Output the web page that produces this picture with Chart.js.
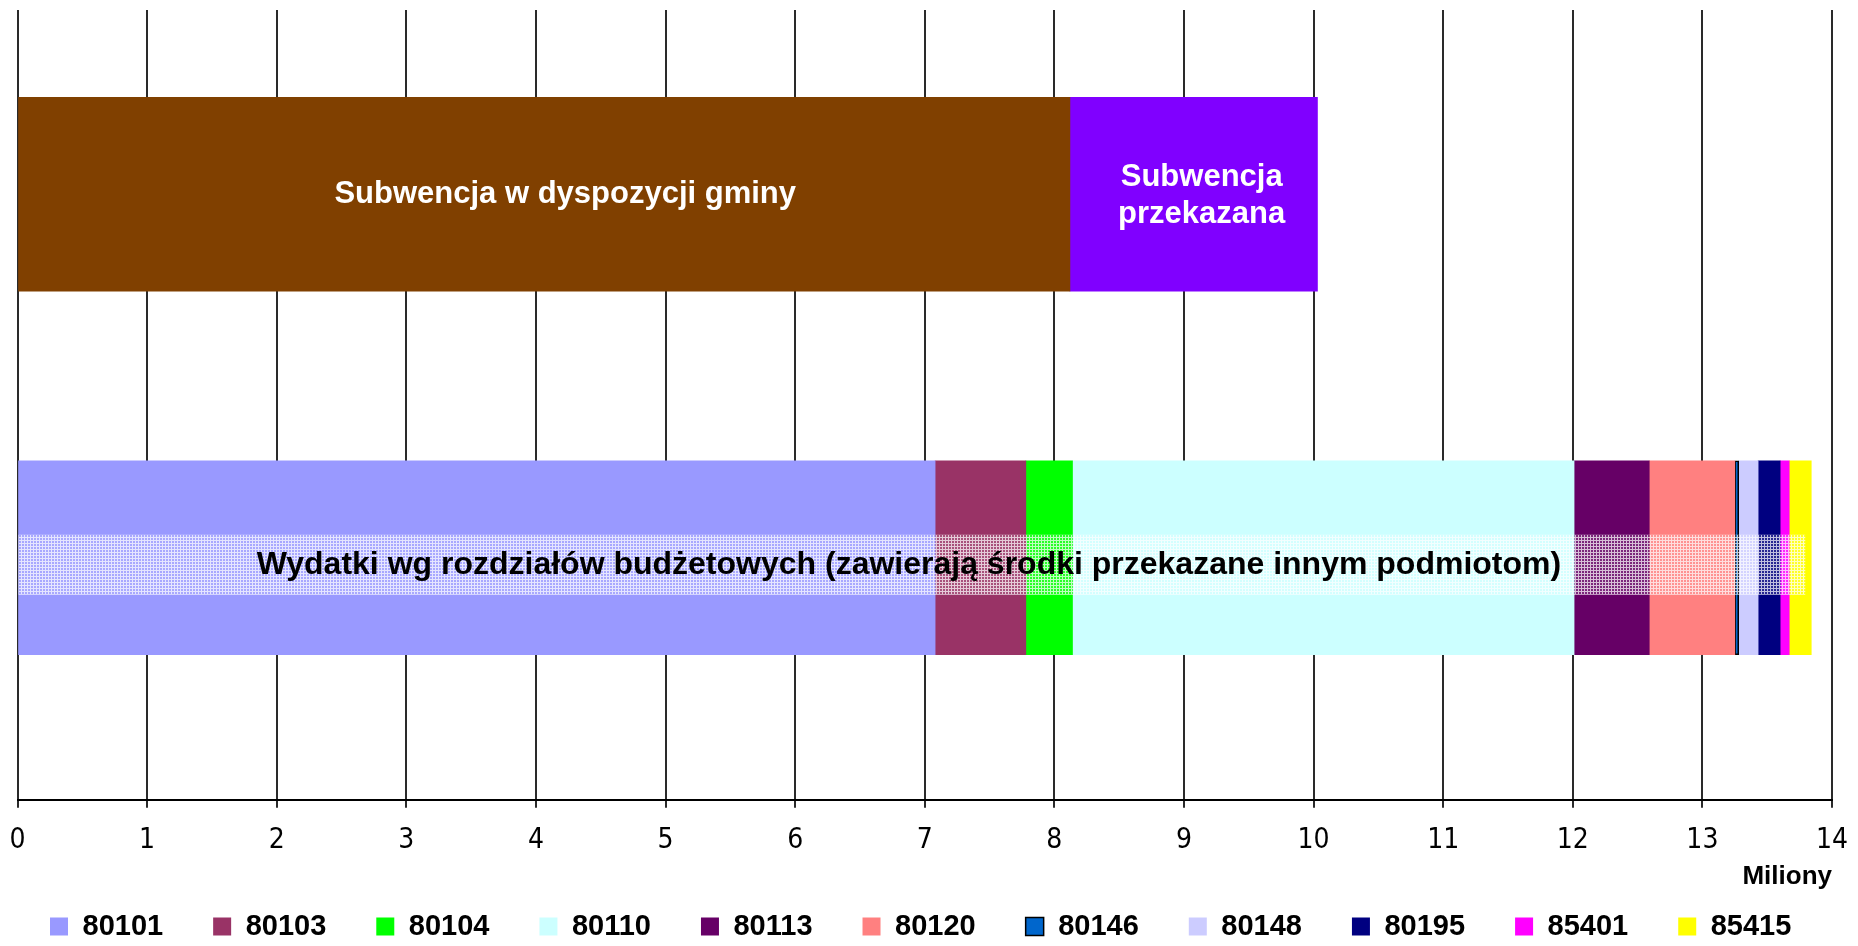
<!DOCTYPE html>
<html lang="pl">
<head>
  <meta charset="UTF-8">
  <title>Subwencja i wydatki</title>
  <script src="https://cdn.jsdelivr.net/npm/chart.js"></script>
  <style>
    html, body { margin: 0; padding: 0; background: #fff; }
    .chart-container { position: relative; width: 1858px; height: 946px; }
  </style>
</head>
<body>

  <div class="chart-container">
    <canvas id="myChart"></canvas>
  </div>

<script>
  // values in millions PLN
  const subwencjaLabels = ['Subwencja w dyspozycji gminy', 'Subwencja przekazana'];
  const subwencjaValues = [8.12, 1.91];
  const subwencjaColors = ['#804000', '#8000ff'];

  const rozdzialy = ['80101', '80103', '80104', '80110', '80113', '80120', '80146', '80148', '80195', '85401', '85415'];
  const wydatki = [7.08, 0.70, 0.36, 3.87, 0.58, 0.66, 0.03, 0.15, 0.17, 0.07, 0.17];
  const rozdzialyColors = ['#9999ff', '#993366', '#00ff00', '#ccffff', '#660066', '#ff8080', '#0066cc', '#ccccff', '#000080', '#ff00ff', '#ffff00'];

  const wydatkiLabel = 'Wydatki wg rozdziałów budżetowych (zawierają środki przekazane innym podmiotom)';
  const xMin = 0;
  const xMax = 14;
  const xTitle = 'Miliony';

  // row 0 = subwencja, row 1 = wydatki
  var datasets = [];

  subwencjaValues.forEach((v, i) => {
    datasets.push({
      label: subwencjaLabels[i],
      data: [{x: v, y: 0}],
      backgroundColor: subwencjaColors[i],
      borderWidth: 0
    });
  });

  wydatki.forEach((v, i) => {
    var outlined = rozdzialy[i] === '80146';
    datasets.push({
      label: rozdzialy[i],
      data: [{x: v, y: 1}],
      backgroundColor: rozdzialyColors[i],
      borderColor: '#000',
      borderWidth: outlined ? 1.5 : 0,
      borderSkipped: false
    });
  });

  // white dotted band behind the bottom caption
  function makePattern() {
    const c = document.createElement('canvas');
    c.width = 3; c.height = 3;
    const g = c.getContext('2d');
    g.fillStyle = 'rgba(255,255,255,0.15)';
    g.fillRect(0, 0, 3, 3);
    g.fillStyle = 'rgba(255,255,255,0.7)';
    g.fillRect(0, 0, 3, 1);
    g.fillRect(0, 1, 1, 2);
    return g.createPattern(c, 'repeat');
  }

  const barText = {
    id: 'barText',
    afterDatasetsDraw(chart) {
      const ctx = chart.ctx;
      ctx.save();
      ctx.textAlign = 'center';
      ctx.textBaseline = 'middle';

      // top row
      const a = chart.getDatasetMeta(0).data[0];
      const b = chart.getDatasetMeta(1).data[0];
      ctx.font = 'bold 31px "Liberation Sans", Arial, sans-serif';
      ctx.fillStyle = '#fff';
      ctx.fillText(subwencjaLabels[0], (a.base + a.x) / 2 + 21, a.y);
      const bx = (b.base + b.x) / 2 + 8;
      ctx.fillText('Subwencja', bx, b.y - 17);
      ctx.fillText('przekazana', bx, b.y + 20);

      // bottom row
      const first = chart.getDatasetMeta(2).data[0];
      const last = chart.getDatasetMeta(datasets.length - 1).data[0];
      const ty = first.y + 7;
      ctx.fillStyle = makePattern();
      ctx.fillRect(first.base, ty - 30, (last.x - 6) - first.base, 60);
      ctx.font = 'bold 32px "Liberation Sans", Arial, sans-serif';
      ctx.fillStyle = '#000';
      ctx.fillText(wydatkiLabel, (first.base + last.x) / 2 - 6, ty);
      ctx.restore();
    }
  };

  const ctx = document.getElementById('myChart');

  const config = {
    type: 'bar',
    data: { datasets: datasets },
    plugins: [barText],
    options: {
      indexAxis: 'y',
      responsive: true,
      maintainAspectRatio: false,
      animation: false,
      layout: { padding: { left: 0, right: 0, top: 10, bottom: -5 } },
      plugins: {
        tooltip: { enabled: false },
        legend: {
          position: 'bottom',
          align: 'start',
          labels: {
            filter: (item) => item.datasetIndex >= 2,
            boxWidth: 18,
            boxHeight: 18,
            padding: 50,
            color: '#000',
            font: { family: '"Liberation Sans", Arial, sans-serif', size: 29, weight: 'bold' }
          }
        }
      },
      scales: {
        x: {
          stacked: true,
          min: xMin,
          max: xMax,
          ticks: {
            stepSize: 1,
            color: '#000',
            padding: 9.5,
            font: { family: '"Liberation Sans Narrow", "DejaVu Sans Condensed", sans-serif', size: 28, lineHeight: 1.68 }
          },
          grid: { color: '#2a2a2a', lineWidth: 2, tickLength: 8, drawTicks: true },
          border: { color: '#000', width: 2 },
          title: {
            display: true,
            text: xTitle,
            align: 'end',
            color: '#000',
            padding: { top: -12.5, bottom: -30.6 },
            font: { family: '"Liberation Sans", Arial, sans-serif', size: 26, weight: 'bold' }
          }
        },
        y: {
          type: 'linear',
          position: 'left',
          stacked: true,
          reverse: true,
          offset: false,
          min: -0.507,
          max: 1.666,
          grid: { display: false },
          border: { display: false },
          ticks: { display: false },
          afterFit: (scale) => { scale.width = 12; }
        },
        yRight: {
          type: 'linear',
          position: 'right',
          grid: { display: false },
          border: { display: false },
          ticks: { display: false },
          afterFit: (scale) => { scale.width = 26; }
        }
      },
      datasets: { bar: { barThickness: 194 } }
    }
  };

  new Chart(ctx, config);
</script>
</body>
</html>
